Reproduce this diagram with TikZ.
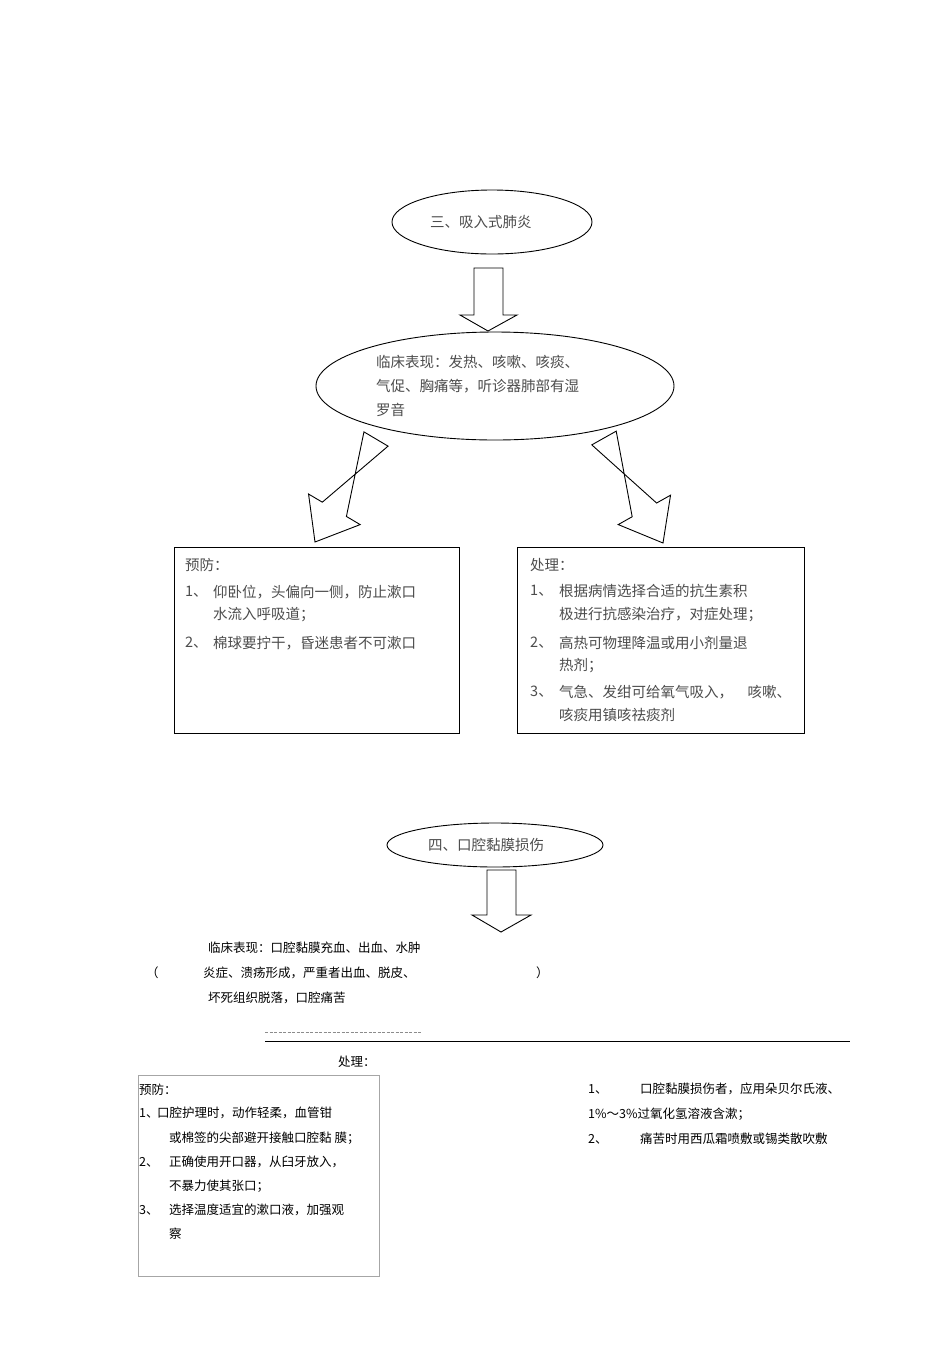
\documentclass[tikz,border=0pt]{standalone}
\usepackage{fontspec}
\setmainfont{Noto Sans CJK SC}
\usetikzlibrary{calc,shapes.geometric}
\tikzset{
 tt/.style={anchor=west,inner sep=0pt,text=black!70,font=\fontsize{14.5}{16}\selectfont},
 bt/.style={anchor=west,inner sep=0pt,text=black,font=\fontsize{12.5}{14}\selectfont},
 ell/.style={draw,line width=0.9pt,ellipse,inner sep=0pt},
 boxs/.style={draw,line width=0.9pt,inner sep=0pt},
 barrow/.style={draw,line width=0.9pt,fill=white}
}
\newcommand{\blockarr}[2]{%
 \draw[barrow] ($(#1)!14pt!90:(#2)$) -- ($(#2)!38pt!(#1)!14pt!-90:(#2)$)
  -- ($(#2)!38pt!(#1)!30pt!-90:(#2)$) -- (#2)
  -- ($(#2)!38pt!(#1)!30pt!90:(#2)$) -- ($(#2)!38pt!(#1)!14pt!90:(#2)$)
  -- ($(#1)!14pt!-90:(#2)$) -- cycle;}
\begin{document}
\begin{tikzpicture}[x=1pt,y=-1pt]
\useasboundingbox (0,0) rectangle (950,1345);
% part 3
\node[ell,minimum width=200pt,minimum height=64pt] (e1) at (492,222) {};
\node[tt] (t1) at (430,222) {三、吸入式肺炎};
\node[ell,minimum width=358pt,minimum height=108pt] (e2) at (495,386) {};
\coordinate (a1s) at (488,268); \coordinate (a1e) at (488,331);
\draw[barrow] (474,268) -- (474,315) -- (460,315) -- (a1e) -- (517,315) -- (503,315) -- (503,268) -- cycle;
\node[tt] at (376,362) {临床表现：发热、咳嗽、咳痰、};
\node[tt] at (376,386) {气促、胸痛等，听诊器肺部有湿};
\node[tt] at (376,410) {罗音};
\coordinate (la) at (376,439); \coordinate (lb) at (315,542);
\coordinate (ra) at (604,438); \coordinate (rb) at (663,543);
\blockarr{la}{lb}
\blockarr{ra}{rb}
\node[boxs,minimum width=285pt,minimum height=186pt,anchor=north west] (b1) at (174,547) {};
\node[boxs,minimum width=287pt,minimum height=186pt,anchor=north west] (b2) at (517,547) {};
\node[tt] at (185,565) {预防：};
\node[tt] at (185,592) {1、};
\node[tt] at (213,592) {仰卧位，头偏向一侧，防止漱口};
\node[tt] at (213,615) {水流入呼吸道；};
\node[tt] at (185,643) {2、};
\node[tt] at (213,643) {棉球要拧干，昏迷患者不可漱口};
\node[tt] at (530,565) {处理：};
\node[tt] at (530,591) {1、};
\node[tt] at (559,591) {根据病情选择合适的抗生素积};
\node[tt] at (559,615) {极进行抗感染治疗，对症处理；};
\node[tt] at (530,643) {2、};
\node[tt] at (559,643) {高热可物理降温或用小剂量退};
\node[tt] at (559,666) {热剂；};
\node[tt] at (530,692) {3、};
\node[tt] at (559,692) {气急、发绀可给氧气吸入，\quad 咳嗽、};
\node[tt] at (559,715) {咳痰用镇咳祛痰剂};
% part 4
\node[ell,minimum width=216pt,minimum height=44pt] (e3) at (495,845) {};
\node[tt] at (428,845) {四、口腔黏膜损伤};
\coordinate (a2e) at (501,932);
\draw[barrow] (487,870) -- (487,915) -- (472,915) -- (a2e) -- (531,915) -- (516,915) -- (516,870) -- cycle;
\node[bt] at (208,948) {临床表现：口腔黏膜充血、出血、水肿};
\node[bt] at (146,973) {（};
\node[bt] at (203,973) {炎症、溃疡形成，严重者出血、脱皮、};
\node[bt] at (536,973) {）};
\node[bt] at (208,998) {坏死组织脱落，口腔痛苦};
\coordinate (d1) at (265,1032); \coordinate (d2) at (422,1032);
\draw[black!45,dash pattern=on 3pt off 1.5pt,line width=0.6pt] (d1) -- (d2);
\coordinate (s1) at (265,1041); \coordinate (s2) at (850,1041);
\draw[line width=0.8pt] (s1) -- (s2);
\node[bt] at (338,1062) {处理：};
\node[draw=black!35,line width=0.8pt,minimum width=241pt,minimum height=201pt,anchor=north west,inner sep=0pt] (b3) at (138,1075) {};
\node[bt] at (139,1090) {预防：};
\node[bt] at (139,1113) {1、};
\node[bt] at (157,1113) {口腔护理时，动作轻柔，血管钳};
\node[bt] at (169,1138) {或棉签的尖部避开接触口腔黏\ 膜；};
\node[bt] at (139,1162) {2、};
\node[bt] at (169,1162) {正确使用开口器，从臼牙放入，};
\node[bt] at (169,1186) {不暴力使其张口；};
\node[bt] at (139,1210) {3、};
\node[bt] at (169,1210) {选择温度适宜的漱口液，加强观};
\node[bt] at (169,1234) {察};
\node[bt] at (588,1089) {1、};
\node[bt] at (640,1089) {口腔黏膜损伤者，应用朵贝尔氏液、};
\node[bt] at (588,1114) {1\%～3\%过氧化氢溶液含漱；};
\node[bt] at (588,1139) {2、};
\node[bt] at (640,1139) {痛苦时用西瓜霜喷敷或锡类散吹敷};
\end{tikzpicture}
\end{document}
